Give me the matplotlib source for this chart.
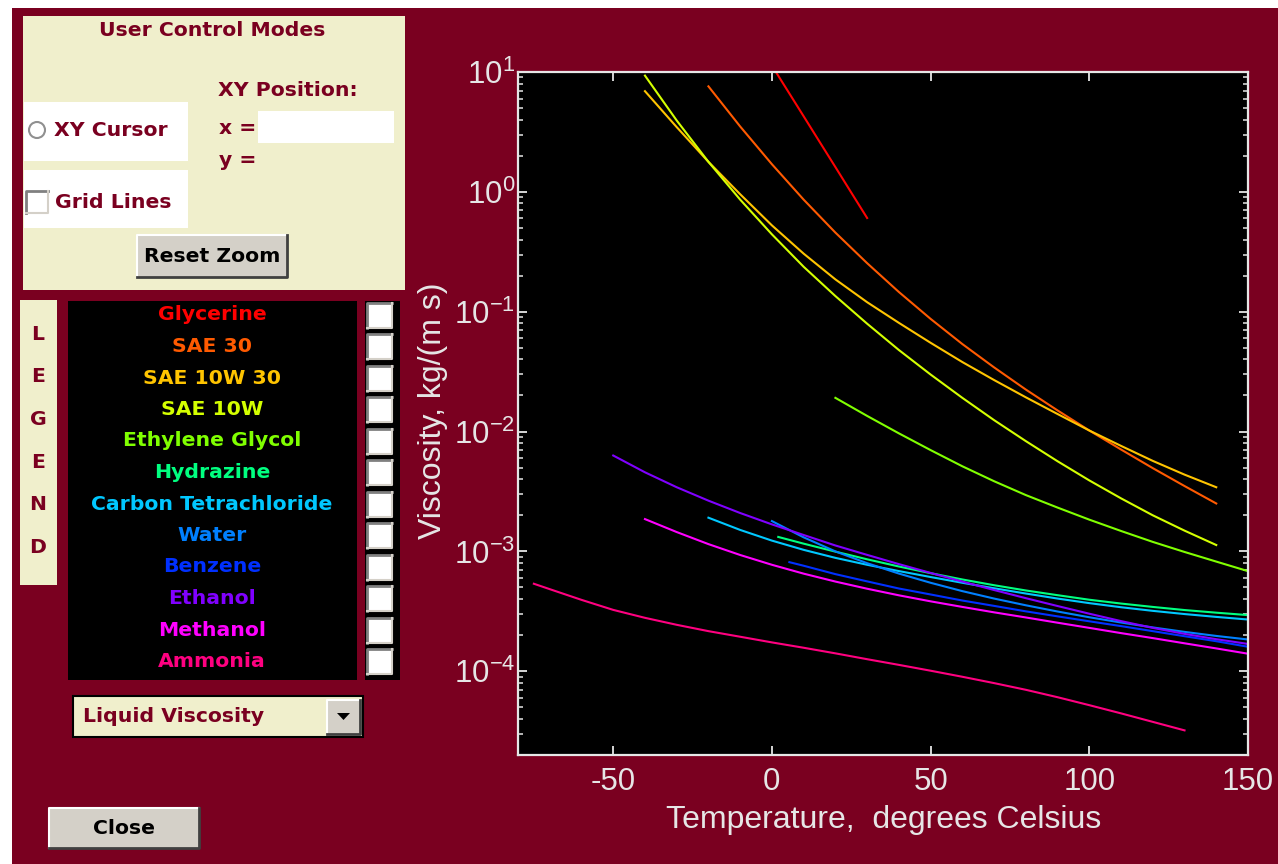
import matplotlib
matplotlib.use('Agg')
import matplotlib.pyplot as plt
from matplotlib.patches import Rectangle, Circle, Polygon
from matplotlib.ticker import LogLocator, NullFormatter, FixedLocator

# viscosity data, kg/(m s)
t_glycerine = [0, 5, 10, 15, 20, 25, 30]
mu_glycerine = [11.3, 6.95, 4.27, 2.62, 1.61, 0.986, 0.605]

t_sae30 = [-20, -10, 0, 10, 20, 30, 40, 50, 60, 70, 80, 90, 100, 110, 120, 130, 140]
mu_sae30 = [7.59, 3.51, 1.70, 0.861, 0.457, 0.254, 0.146, 0.0871, 0.0537, 0.0343,
            0.0224, 0.0150, 0.0102, 0.00708, 0.00495, 0.00351, 0.00251]

t_sae10w30 = [-40, -30, -20, -10, 0, 10, 20, 30, 40, 50, 60, 70, 80, 90, 100, 110, 120, 130, 140]
mu_sae10w30 = [6.92, 3.47, 1.78, 0.955, 0.525, 0.305, 0.186, 0.120, 0.0807, 0.0550, 0.0380,
               0.0269, 0.0193, 0.0140, 0.0102, 0.00759, 0.00569, 0.00437, 0.00343]

t_sae10w = [-40, -30, -20, -10, 0, 10, 20, 30, 40, 50, 60, 70, 80, 90, 100, 110, 120, 130, 140]
mu_sae10w = [9.33, 3.94, 1.78, 0.861, 0.442, 0.237, 0.135, 0.0794, 0.0479, 0.0299, 0.0191,
             0.01245, 0.00832, 0.00565, 0.00391, 0.00277, 0.00200, 0.00149, 0.00113]

t_glycol = [20, 30, 40, 50, 60, 70, 80, 90, 100, 110, 120, 130, 140, 150]
mu_glycol = [0.0191, 0.0135, 0.00966, 0.00700, 0.00513, 0.00385, 0.00295, 0.00232, 0.00184,
             0.00148, 0.00120, 0.000989, 0.000822, 0.000684]

t_hydrazine = [2, 10, 20, 30, 40, 50, 60, 70, 80, 90, 100, 110, 120, 130, 140, 150]
mu_hydrazine = [1.32e-3, 1.16e-3, 9.95e-4, 8.59e-4, 7.48e-4, 6.58e-4, 5.83e-4, 5.22e-4,
                4.72e-4, 4.31e-4, 3.95e-4, 3.67e-4, 3.44e-4, 3.24e-4, 3.08e-4, 2.94e-4]

t_ccl4 = [-20, -10, 0, 10, 20, 30, 40, 50, 60, 70, 80, 90, 100, 110, 120, 130, 140, 150]
mu_ccl4 = [1.91e-3, 1.51e-3, 1.23e-3, 1.03e-3, 8.83e-4, 7.73e-4, 6.85e-4, 6.11e-4, 5.47e-4,
           4.92e-4, 4.45e-4, 4.04e-4, 3.70e-4, 3.42e-4, 3.19e-4, 3.00e-4, 2.84e-4, 2.70e-4]

t_water = [0, 10, 20, 30, 40, 50, 60, 70, 80, 90, 100, 110, 120, 130, 140, 150]
mu_water = [1.79e-3, 1.31e-3, 1.00e-3, 7.97e-4, 6.53e-4, 5.47e-4, 4.66e-4, 4.04e-4,
            3.55e-4, 3.15e-4, 2.82e-4, 2.55e-4, 2.32e-4, 2.13e-4, 1.97e-4, 1.84e-4]

t_benzene = [5.5, 10, 20, 30, 40, 50, 60, 70, 80, 90, 100, 110, 120, 130, 140, 150]
mu_benzene = [8.13e-4, 7.59e-4, 6.46e-4, 5.62e-4, 4.90e-4, 4.37e-4, 3.89e-4, 3.51e-4,
              3.16e-4, 2.87e-4, 2.61e-4, 2.38e-4, 2.16e-4, 1.96e-4, 1.78e-4, 1.60e-4]

t_ethanol = [-50, -40, -30, -20, -10, 0, 10, 20, 30, 40, 50, 60, 70, 80, 90, 100, 110, 120, 130, 140, 150]
mu_ethanol = [6.31e-3, 4.57e-3, 3.43e-3, 2.65e-3, 2.09e-3, 1.68e-3, 1.37e-3, 1.12e-3, 9.35e-4,
              7.83e-4, 6.61e-4, 5.60e-4, 4.76e-4, 4.07e-4, 3.50e-4, 3.02e-4, 2.62e-4, 2.30e-4,
              2.05e-4, 1.85e-4, 1.69e-4]

t_methanol = [-40, -30, -20, -10, 0, 10, 20, 30, 40, 50, 60, 70, 80, 90, 100, 110, 120, 130, 140, 150]
mu_methanol = [1.86e-3, 1.45e-3, 1.15e-3, 9.33e-4, 7.73e-4, 6.52e-4, 5.60e-4, 4.88e-4, 4.30e-4,
               3.83e-4, 3.44e-4, 3.10e-4, 2.81e-4, 2.54e-4, 2.30e-4, 2.08e-4, 1.89e-4, 1.71e-4,
               1.55e-4, 1.40e-4]

t_ammonia = [-75, -70, -60, -50, -40, -30, -20, -10, 0, 10, 20, 30, 40, 50, 60, 70, 80, 90, 100, 110, 120, 130]
mu_ammonia = [5.37e-4, 4.84e-4, 3.94e-4, 3.25e-4, 2.79e-4, 2.44e-4, 2.16e-4, 1.94e-4, 1.74e-4,
              1.57e-4, 1.41e-4, 1.26e-4, 1.13e-4, 1.01e-4, 8.99e-5, 7.96e-5, 7.00e-5, 6.07e-5,
              5.21e-5, 4.45e-5, 3.78e-5, 3.21e-5]

names = ['Glycerine', 'SAE 30', 'SAE 10W 30', 'SAE 10W', 'Ethylene Glycol', 'Hydrazine',
         'Carbon Tetrachloride', 'Water', 'Benzene', 'Ethanol', 'Methanol', 'Ammonia']
colors = ['#ff0000', '#ff5a00', '#ffc400', '#d4ff00', '#80ff00', '#00ff80',
          '#00c8ff', '#0080ff', '#0030ff', '#8000ff', '#ff00ff', '#ff0080']
series = [(t_glycerine, mu_glycerine), (t_sae30, mu_sae30), (t_sae10w30, mu_sae10w30),
          (t_sae10w, mu_sae10w), (t_glycol, mu_glycol), (t_hydrazine, mu_hydrazine),
          (t_ccl4, mu_ccl4), (t_water, mu_water), (t_benzene, mu_benzene),
          (t_ethanol, mu_ethanol), (t_methanol, mu_methanol), (t_ammonia, mu_ammonia)]

plt.rcParams['axes.unicode_minus'] = False
plt.rcParams['mathtext.fontset'] = 'custom'
plt.rcParams['mathtext.rm'] = 'Liberation Sans'
plt.rcParams['mathtext.default'] = 'regular'

maroon = '#7a0020'
beige = '#f0efcc'
btn_gray = '#d4d0c8'
axis_white = '#e6e6e6'
W, H = 1278, 864

fig = plt.figure(figsize=(W / 100, H / 100), dpi=100, facecolor='white')

# full-figure layer for the window controls, in pixel coords
ui = fig.add_axes([0, 0, 1, 1])
ui.set_xlim(0, W)
ui.set_ylim(H, 0)
ui.axis('off')
ui.add_patch(Rectangle((12, 8), W - 12, H - 8, fc=maroon, ec='none'))

bold = dict(family='DejaVu Sans', weight='bold', fontsize=14.7)


def button(x0, y0, x1, y1, label):
    ui.add_patch(Rectangle((x0, y0), x1 - x0, y1 - y0, fc=btn_gray, ec='none'))
    ui.plot([x0, x0, x1], [y1, y0, y0], color='white', lw=1.5)
    ui.plot([x0, x1, x1], [y1, y1, y0], color='#404040', lw=2)
    ui.text((x0 + x1) / 2, (y0 + y1) / 2 + 1, label, color='black', ha='center', va='center', **bold)


def checkbox(x0, y0, size):
    ui.add_patch(Rectangle((x0, y0), size, size, fc='white', ec='none'))
    ui.plot([x0, x0, x0 + size], [y0 + size, y0, y0], color='#808080', lw=2)
    ui.plot([x0, x0 + size, x0 + size], [y0 + size, y0 + size, y0], color='#d4d0c8', lw=1.5)


# User Control Modes panel
ui.add_patch(Rectangle((23, 16), 382, 274, fc=beige, ec='none'))
ui.text(212, 31, 'User Control Modes', color=maroon, ha='center', va='center', **bold)
ui.add_patch(Rectangle((24, 102), 164, 59, fc='white', ec='none'))
ui.add_patch(Circle((37, 130), 8, fc='white', ec='#909090', lw=1.5))
ui.text(54, 131, 'XY Cursor', color=maroon, ha='left', va='center', **bold)
ui.add_patch(Rectangle((24, 170), 164, 58, fc='white', ec='none'))
checkbox(26, 191, 22)
ui.text(55, 202, 'Grid Lines', color=maroon, ha='left', va='center', **bold)
ui.text(218, 91, 'XY Position:', color=maroon, ha='left', va='center', **bold)
ui.text(219, 128, 'x =', color=maroon, ha='left', va='center', **bold)
ui.add_patch(Rectangle((258, 111), 136, 32, fc='white', ec='none'))
ui.text(219, 160, 'y =', color=maroon, ha='left', va='center', **bold)
button(137, 235, 287, 277, 'Reset Zoom')

# vertical LEGEND tab
ui.add_patch(Rectangle((20, 300), 37, 285, fc=beige, ec='none'))
for i, ch in enumerate('LEGEND'):
    ui.text(38, 334 + i * 42.7, ch, color=maroon, ha='center', va='center', **bold)

# legend list and check boxes
ui.add_patch(Rectangle((68, 301), 289, 379, fc='black', ec='none'))
ui.add_patch(Rectangle((365, 301), 35, 379, fc='black', ec='none'))
for i, (name, col) in enumerate(zip(names, colors)):
    yc = 315 + i * 31.5
    ui.text(212, yc, name, color=col, ha='center', va='center', **bold)
    checkbox(367, yc - 12.5, 25)

# property selector
ui.add_patch(Rectangle((73, 696), 290, 41, fc=beige, ec='black', lw=1.5))
ui.text(83, 717, 'Liquid Viscosity', color=maroon, ha='left', va='center', **bold)
button(327, 700, 360, 734, '')
ui.add_patch(Polygon([[337, 713], [350, 713], [343.5, 720]], closed=True, fc='black', ec='none'))

button(49, 808, 199, 848, 'Close')

# the chart itself
ax = fig.add_axes([518 / W, (H - 755) / H, 730 / W, 683 / H])
ax.set_facecolor('black')
for (t, mu), col in zip(series, colors):
    ax.plot(t, mu, color=col, lw=1.5, solid_joinstyle='round')

ax.set_yscale('log')
ax.set_xlim(-80, 150)
ax.set_ylim(2e-5, 10)
ax.xaxis.set_major_locator(FixedLocator([-50, 0, 50, 100, 150]))
ax.yaxis.set_major_locator(LogLocator(base=10, numticks=12))
ax.yaxis.set_minor_locator(LogLocator(base=10, subs=range(2, 10), numticks=12))
ax.yaxis.set_minor_formatter(NullFormatter())

for sp in ax.spines.values():
    sp.set_color(axis_white)
    sp.set_linewidth(1.6)
ax.tick_params(which='both', direction='in', color=axis_white, top=True, right=True,
               labelcolor=axis_white, labelsize=22.5, labelfontfamily='Liberation Sans')
ax.tick_params(which='major', length=6.5, width=1.3)
ax.tick_params(which='minor', length=3.5, width=1.1)
ax.tick_params(axis='x', pad=9)
ax.tick_params(axis='y', pad=2)

fig.text(884 / W, 1 - 820 / H, 'Temperature,  degrees Celsius', color=axis_white,
         ha='center', va='center', fontsize=23, family='Liberation Sans')
fig.text(433 / W, 1 - 411 / H, 'Viscosity, kg/(m s)', color=axis_white, rotation=90,
         ha='center', va='center', fontsize=23, family='Liberation Sans')

fig.savefig('out.png', dpi=100, facecolor=fig.get_facecolor())
